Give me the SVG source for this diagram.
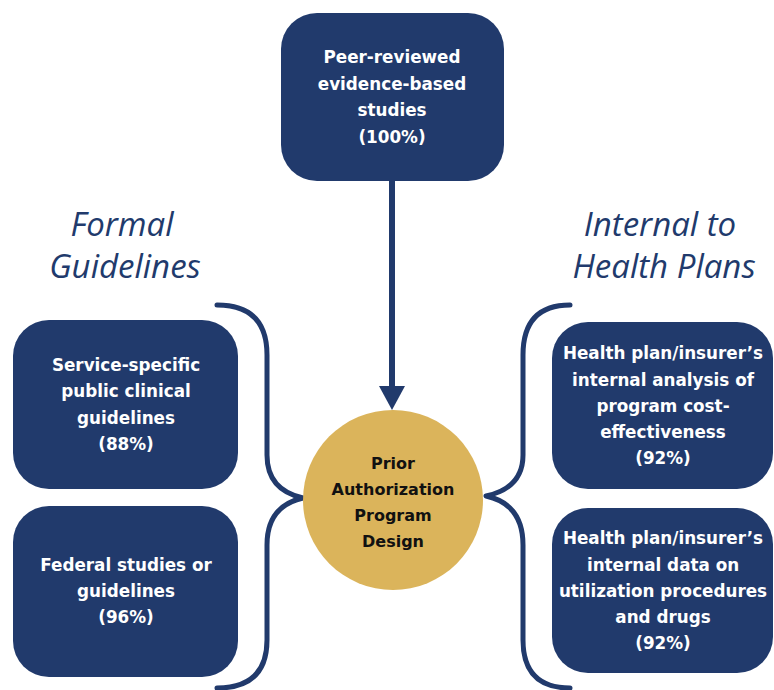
<svg xmlns="http://www.w3.org/2000/svg" width="774" height="690" viewBox="0 0 774 690">
  <style>
    .box { fill: #213a6c; }
    .lbl { fill: #ffffff; font-family: "DejaVu Sans", "Liberation Sans", sans-serif; font-weight: 700; font-size: 16.8px; text-anchor: middle; }
    .core { fill: #111111; font-family: "DejaVu Sans", "Liberation Sans", sans-serif; font-weight: 700; font-size: 16px; text-anchor: middle; }
    .head { fill: #213a6c; font-family: "Open Sans", "Liberation Sans", sans-serif; font-style: italic; font-size: 33px; text-anchor: middle; }
    .brace { fill: none; stroke: #213a6c; stroke-width: 5; stroke-linecap: round; stroke-linejoin: round; }
  </style>
  <rect width="774" height="690" fill="#ffffff"/>

  <!-- group headings -->
  <g id="heading-formal">
    <text class="head" x="122" y="236">Formal</text>
    <text class="head" x="125" y="278">Guidelines</text>
  </g>
  <g id="heading-internal">
    <text class="head" x="660" y="236">Internal to</text>
    <text class="head" x="664" y="278">Health Plans</text>
  </g>

  <!-- connectors: arrow into the core and the two braces -->
  <g id="connectors">
    <line x1="392" y1="181" x2="392" y2="390" stroke="#213a6c" stroke-width="6"/>
    <path d="M379,386 L405,386 L392,410 Z" fill="#213a6c"/>
    <path class="brace" d="M217,305 Q267,305 267,355 L267,455 Q267,490 303,498 Q267,506 267,545 L267,640 Q267,688 217,688"/>
    <path class="brace" d="M570,305 Q523,305 523,355 L523,455 Q523,488 486,496 Q523,504 523,545 L523,640 Q523,688 570,688"/>
  </g>

  <g id="peer-reviewed">
    <rect class="box" x="281" y="13" width="223" height="168" rx="36"/>
    <text class="lbl" x="392" y="63">Peer-reviewed</text>
    <text class="lbl" x="392" y="90">evidence-based</text>
    <text class="lbl" x="392" y="116">studies</text>
    <text class="lbl" x="392" y="143">(100%)</text>
  </g>

  <g id="service-specific">
    <rect class="box" x="13" y="320" width="225" height="169" rx="36"/>
    <text class="lbl" x="126" y="371">Service-specific</text>
    <text class="lbl" x="126" y="397">public clinical</text>
    <text class="lbl" x="126" y="424">guidelines</text>
    <text class="lbl" x="126" y="450">(88%)</text>
  </g>

  <g id="federal">
    <rect class="box" x="13" y="506" width="225" height="171" rx="36"/>
    <text class="lbl" x="126" y="571">Federal studies or</text>
    <text class="lbl" x="126" y="597">guidelines</text>
    <text class="lbl" x="126" y="623">(96%)</text>
  </g>

  <g id="cost-effectiveness">
    <rect class="box" x="552" y="322" width="221" height="167" rx="36"/>
    <text class="lbl" x="663" y="359">Health plan/insurer’s</text>
    <text class="lbl" x="663" y="386">internal analysis of</text>
    <text class="lbl" x="663" y="412">program cost-</text>
    <text class="lbl" x="663" y="438">effectiveness</text>
    <text class="lbl" x="663" y="464">(92%)</text>
  </g>

  <g id="utilization-data">
    <rect class="box" x="552" y="508" width="221" height="165" rx="36"/>
    <text class="lbl" x="663" y="544">Health plan/insurer’s</text>
    <text class="lbl" x="663" y="571">internal data on</text>
    <text class="lbl" x="663" y="597">utilization procedures</text>
    <text class="lbl" x="663" y="623">and drugs</text>
    <text class="lbl" x="663" y="649">(92%)</text>
  </g>

  <g id="prior-authorization">
    <circle cx="393" cy="500" r="90" fill="#dbb45b"/>
    <text class="core" x="393" y="469">Prior</text>
    <text class="core" x="393" y="495">Authorization</text>
    <text class="core" x="393" y="521">Program</text>
    <text class="core" x="393" y="547">Design</text>
  </g>
</svg>
